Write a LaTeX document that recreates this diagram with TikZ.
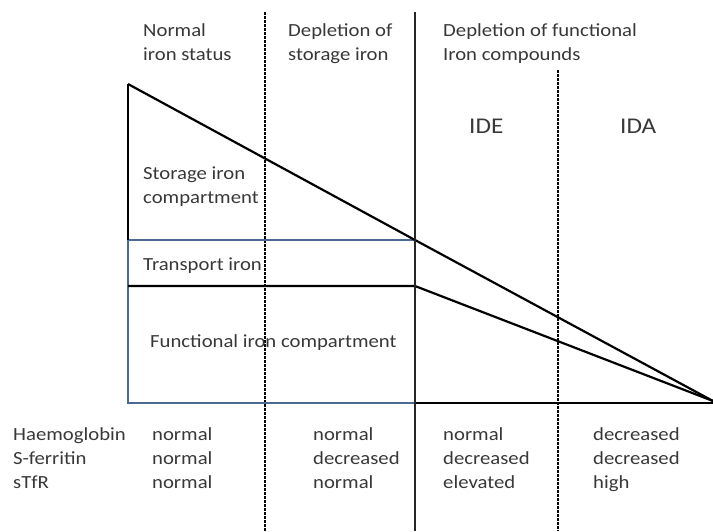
\documentclass[tikz,border=0pt]{standalone}
\usepackage{fontspec}
\setmainfont{Carlito}[FakeStretch=1.12]
\definecolor{txt}{HTML}{383838}
\definecolor{rectblue}{HTML}{4A6A94}
\begin{document}
\begin{tikzpicture}[x=1pt,y=-1pt,
  lbl/.style={anchor=base west,inner sep=0pt,text=txt,font=\fontsize{18.5}{22}\selectfont},
  big/.style={anchor=base west,inner sep=0pt,text=txt,font=\fontsize{22.5}{26}\selectfont},
  thick line/.style={line width=2.2pt,black},
  divider/.style={line width=1.3pt,black,dash pattern=on 2.5pt off 1.5pt},
  main divider/.style={line width=2.8pt,black!85}]
\useasboundingbox (0,0) rectangle (713,531);
% coordinates
\coordinate (top) at (128,84);
\coordinate (sl) at (128,240);
\coordinate (sr) at (415,240);
\coordinate (tl) at (128,286);
\coordinate (tr) at (415,286);
\coordinate (bl) at (128,403);
\coordinate (br) at (415,403);
\coordinate (tip) at (713,401);
\coordinate (bend) at (713,403);
\coordinate (d1t) at (265,12);
\coordinate (d1b) at (265,531);
\coordinate (mt) at (415,12);
\coordinate (mb) at (415,531);
\coordinate (d2t) at (558,70);
\coordinate (d2b) at (558,531);
% dividers
\draw[divider] (d1t) -- (d1b);
\draw[divider] (d2t) -- (d2b);
% compartments
\draw[rectblue,line width=1.8pt] (sl) rectangle (br);
\draw[thick line] (top) -- (sl);
\draw[thick line] (top) -- (sr) -- (tip);
\draw[thick line] (tl) -- (tr) -- (tip);
\draw[thick line] (br) -- (bend);
\draw[main divider] (mt) -- (mb);
% headers
\node[lbl] (h1a) at (143,36) {Normal};
\node[lbl] (h1b) at (143,60) {iron status};
\node[lbl] (h2a) at (288,36) {Depletion of};
\node[lbl] (h2b) at (288,60) {storage iron};
\node[lbl] (h3a) at (443,36) {Depletion of functional};
\node[lbl] (h3b) at (443,60) {Iron compounds};
\node[big] (ide) at (469,133) {IDE};
\node[big] (ida) at (620,133) {IDA};
% compartment labels
\node[lbl] (st1) at (143,179) {Storage iron};
\node[lbl] (st2) at (143,203) {compartment};
\node[lbl] (tr1) at (143,270) {Transport iron};
\node[lbl] (fu1) at (150,347) {Functional iron compartment};
% table
\node[lbl] (r1) at (13,440) {Haemoglobin};
\node[lbl] (r2) at (13,464) {S-ferritin};
\node[lbl] (r3) at (13,488) {sTfR};
\node[lbl] (a1) at (152,440) {normal};
\node[lbl] (a2) at (152,464) {normal};
\node[lbl] (a3) at (152,488) {normal};
\node[lbl] (b1) at (313,440) {normal};
\node[lbl] (b2) at (313,464) {decreased};
\node[lbl] (b3) at (313,488) {normal};
\node[lbl] (c1) at (443,440) {normal};
\node[lbl] (c2) at (443,464) {decreased};
\node[lbl] (c3) at (443,488) {elevated};
\node[lbl] (e1) at (593,440) {decreased};
\node[lbl] (e2) at (593,464) {decreased};
\node[lbl] (e3) at (593,488) {high};
\end{tikzpicture}
\end{document}
